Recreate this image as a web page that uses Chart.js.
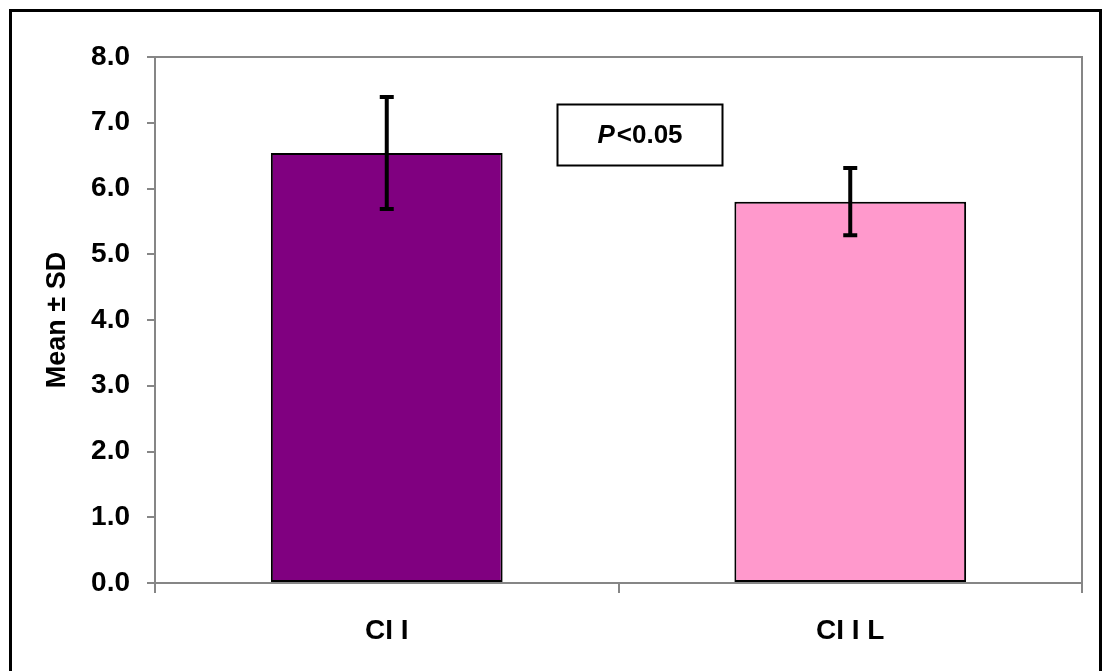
<!DOCTYPE html>
<html>
<head>
<meta charset="utf-8">
<script src="https://cdn.jsdelivr.net/npm/chart.js@4.4.1/dist/chart.umd.min.js"></script>
<style>
html,body{margin:0;padding:0;background:#fff;}
#wrap{width:1109px;height:671px;position:relative;}
</style>
</head>
<body>
<div id="wrap"><canvas id="c" width="1109" height="671"></canvas></div>
<script>
const categories = ['CI I', 'CI I L'];
const means = [6.54, 5.80];
const sds = [0.85, 0.51];
const barColors = ['#800080', '#ff99cc'];
const yTicks = { min: 0, max: 8, step: 1 };
const yTitle = 'Mean \u00b1 SD';
const noteItalic = 'P';
const noteRest = '<0.05';

const FONT = '"Liberation Sans", Arial, sans-serif';
const AXIS_GRAY = '#868686';

const decorPlugin = {
  id: 'decor',
  afterDatasetsDraw(chart) {
    const ctx = chart.ctx;
    const a = chart.chartArea;
    const xs = chart.scales.x, ys = chart.scales.y;
    ctx.save();
    // plot area border top/right
    ctx.strokeStyle = AXIS_GRAY;
    ctx.lineWidth = 2;
    ctx.beginPath();
    ctx.moveTo(a.left, a.top);
    ctx.lineTo(a.right, a.top);
    ctx.lineTo(a.right, a.bottom);
    ctx.stroke();
    // error bars
    ctx.strokeStyle = '#000';
    ctx.lineCap = 'butt';
    means.forEach((m, i) => {
      const x = xs.getPixelForValue(i);
      const yTop = ys.getPixelForValue(m + sds[i]);
      const yBot = ys.getPixelForValue(m - sds[i]);
      ctx.lineWidth = 4;
      ctx.beginPath();
      ctx.moveTo(x, yTop);
      ctx.lineTo(x, yBot);
      ctx.stroke();
      ctx.lineWidth = 4;
      ctx.beginPath();
      ctx.moveTo(x - 7, yTop);
      ctx.lineTo(x + 7, yTop);
      ctx.moveTo(x - 7, yBot);
      ctx.lineTo(x + 7, yBot);
      ctx.stroke();
    });
    // annotation box
    const bw = 165, bh = 61;
    const cx = a.left + (a.right - a.left) * 0.523;
    const cy = ys.getPixelForValue(6.82);
    const bx = Math.round(cx - bw / 2) + 0.5, by = Math.round(cy - bh / 2) + 0.5;
    ctx.fillStyle = '#fff';
    ctx.fillRect(bx, by, bw, bh);
    ctx.strokeStyle = '#000';
    ctx.lineWidth = 2;
    ctx.strokeRect(bx, by, bw, bh);
    ctx.fillStyle = '#000';
    ctx.textBaseline = 'middle';
    ctx.font = 'italic bold 26px ' + FONT;
    const w1 = ctx.measureText(noteItalic).width;
    ctx.font = 'bold 26px ' + FONT;
    const w2 = ctx.measureText(noteRest).width;
    const tx = bx + bw / 2 - (w1 + w2 + 2) / 2;
    ctx.font = 'italic bold 26px ' + FONT;
    ctx.textAlign = 'left';
    ctx.fillText(noteItalic, tx, by + bh / 2 + 1);
    ctx.font = 'bold 26px ' + FONT;
    ctx.fillText(noteRest, tx + w1 + 2, by + bh / 2 + 1);
    // outer frame
    ctx.strokeStyle = '#000';
    ctx.lineWidth = 3;
    ctx.strokeRect(10.5, 10.5, 1090, 700);
    ctx.restore();
  }
};

new Chart(document.getElementById('c'), {
  type: 'bar',
  data: {
    labels: categories,
    datasets: [{
      data: means,
      backgroundColor: barColors,
      borderColor: '#000',
      borderWidth: 2,
      borderSkipped: false,
      categoryPercentage: 1.0,
      barPercentage: 0.5
    }]
  },
  options: {
    responsive: false,
    animation: false,
    events: [],
    layout: { padding: { left: 10, right: 27, top: 57, bottom: 0 } },
    plugins: {
      legend: { display: false },
      tooltip: { enabled: false }
    },
    scales: {
      x: {
        afterFit(s) { s.height = 88; },
        grid: {
          offset: true,
          drawOnChartArea: false,
          drawTicks: true,
          tickLength: 10,
          color: AXIS_GRAY,
          lineWidth: 2
        },
        border: { display: true, color: AXIS_GRAY, width: 2 },
        ticks: {
          color: '#000',
          padding: 21,
          font: { family: FONT, size: 28, weight: 'bold' },
          maxRotation: 0
        }
      },
      y: {
        min: yTicks.min,
        max: yTicks.max,
        afterFit(s) { s.width = 145; },
        grid: {
          drawOnChartArea: false,
          drawTicks: true,
          tickLength: 8,
          color: AXIS_GRAY,
          lineWidth: 2
        },
        border: { display: true, color: AXIS_GRAY, width: 2 },
        ticks: {
          stepSize: yTicks.step,
          color: '#000',
          padding: 17,
          font: { family: FONT, size: 28, weight: 'bold' },
          callback: v => Number(v).toFixed(1)
        },
        title: {
          display: true,
          text: yTitle,
          color: '#000',
          padding: { top: 31, bottom: 0 },
          font: { family: FONT, size: 27, weight: 'bold' }
        }
      }
    }
  },
  plugins: [decorPlugin]
});
</script>
</body>
</html>
